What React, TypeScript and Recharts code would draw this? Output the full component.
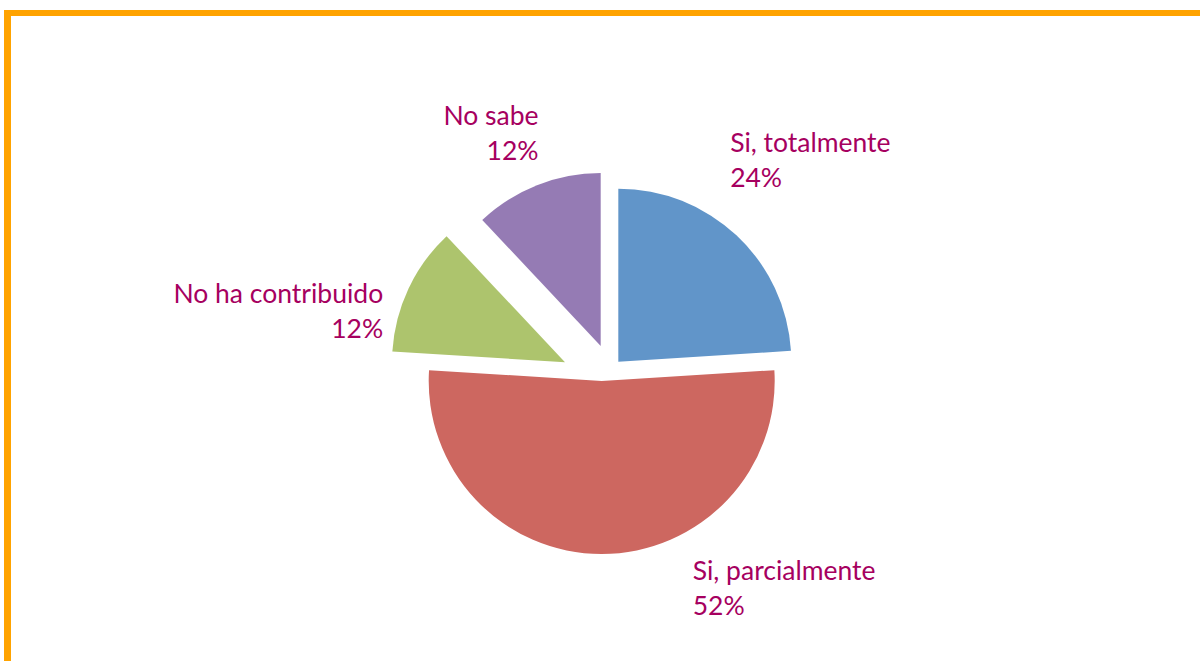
import { PieChart, Pie, Sector } from "recharts"

// survey answers, clockwise from 12 o'clock
const categories = ["Si, totalmente", "Si, parcialmente", "No ha contribuido", "No sabe"]
const shares = [24, 52, 12, 12]
const colors = ["#6195c9", "#cd6760", "#adc46d", "#957bb4"]

// how far each slice is pulled out of the pie (Excel-style explode)
const explode = [
  [16.6, -17.8],
  [0, 1.5],
  [-36.7, -17.2],
  [-1, -33.5],
]
// label anchor, relative to the rim point at the slice's mid angle
const labelOffset = [
  [10, -101, "start"],
  [91, 27.5, "start"],
  [-62, -2.5, "end"],
  [0.5, -93.5, "end"],
] as const

const data = categories.map((name, i) => ({ name, value: shares[i], fill: colors[i] }))

const RAD = Math.PI / 180
const LABEL_COLOR = "#a6005f"
const FONT = "Lato, 'Open Sans', sans-serif"

function ExplodedSector(props: any) {
  const i = categories.indexOf(props.name ?? props.payload?.name)
  const [dx, dy] = explode[i] ?? [0, 0]
  return <Sector {...props} cx={props.cx + dx} cy={props.cy + dy} />
}

function SliceLabel(props: any) {
  const { cx, cy, midAngle, outerRadius, percent, name } = props
  const i = categories.indexOf(name)
  const [ox, oy, anchor] = labelOffset[i]
  const x = cx + Math.cos(-midAngle * RAD) * outerRadius + ox
  const y = cy + Math.sin(-midAngle * RAD) * outerRadius + oy
  return (
    <text x={x} y={y} textAnchor={anchor} fill={LABEL_COLOR} fontFamily={FONT} fontSize={26.5}>
      <tspan x={x}>{name}</tspan>
      <tspan x={x} dy={35}>{`${Math.round(percent * 100)}%`}</tspan>
    </text>
  )
}

export default function App() {
  return (
    <div
      style={{
        position: "fixed",
        left: 0,
        top: 0,
        width: 1200,
        height: 661,
        overflow: "hidden",
        background: "#fff",
      }}
    >
      <div
        style={{
          position: "absolute",
          left: 4,
          top: 10,
          width: 1300,
          height: 800,
          borderLeft: "7px solid #ffa300",
          borderTop: "6px solid #ffa300",
        }}
      />
      <div style={{ position: "absolute", left: 0, top: 0 }}>
        <PieChart width={1200} height={661} margin={{ top: 0, right: 0, bottom: 0, left: 0 }}>
          <Pie
            data={data}
            dataKey="value"
            nameKey="name"
            cx={601.7}
            cy={379.5}
            outerRadius={173}
            startAngle={90}
            endAngle={-270}
            stroke="none"
            shape={ExplodedSector}
            label={SliceLabel}
            labelLine={false}
            isAnimationActive={false}
          />
        </PieChart>
      </div>
    </div>
  )
}
